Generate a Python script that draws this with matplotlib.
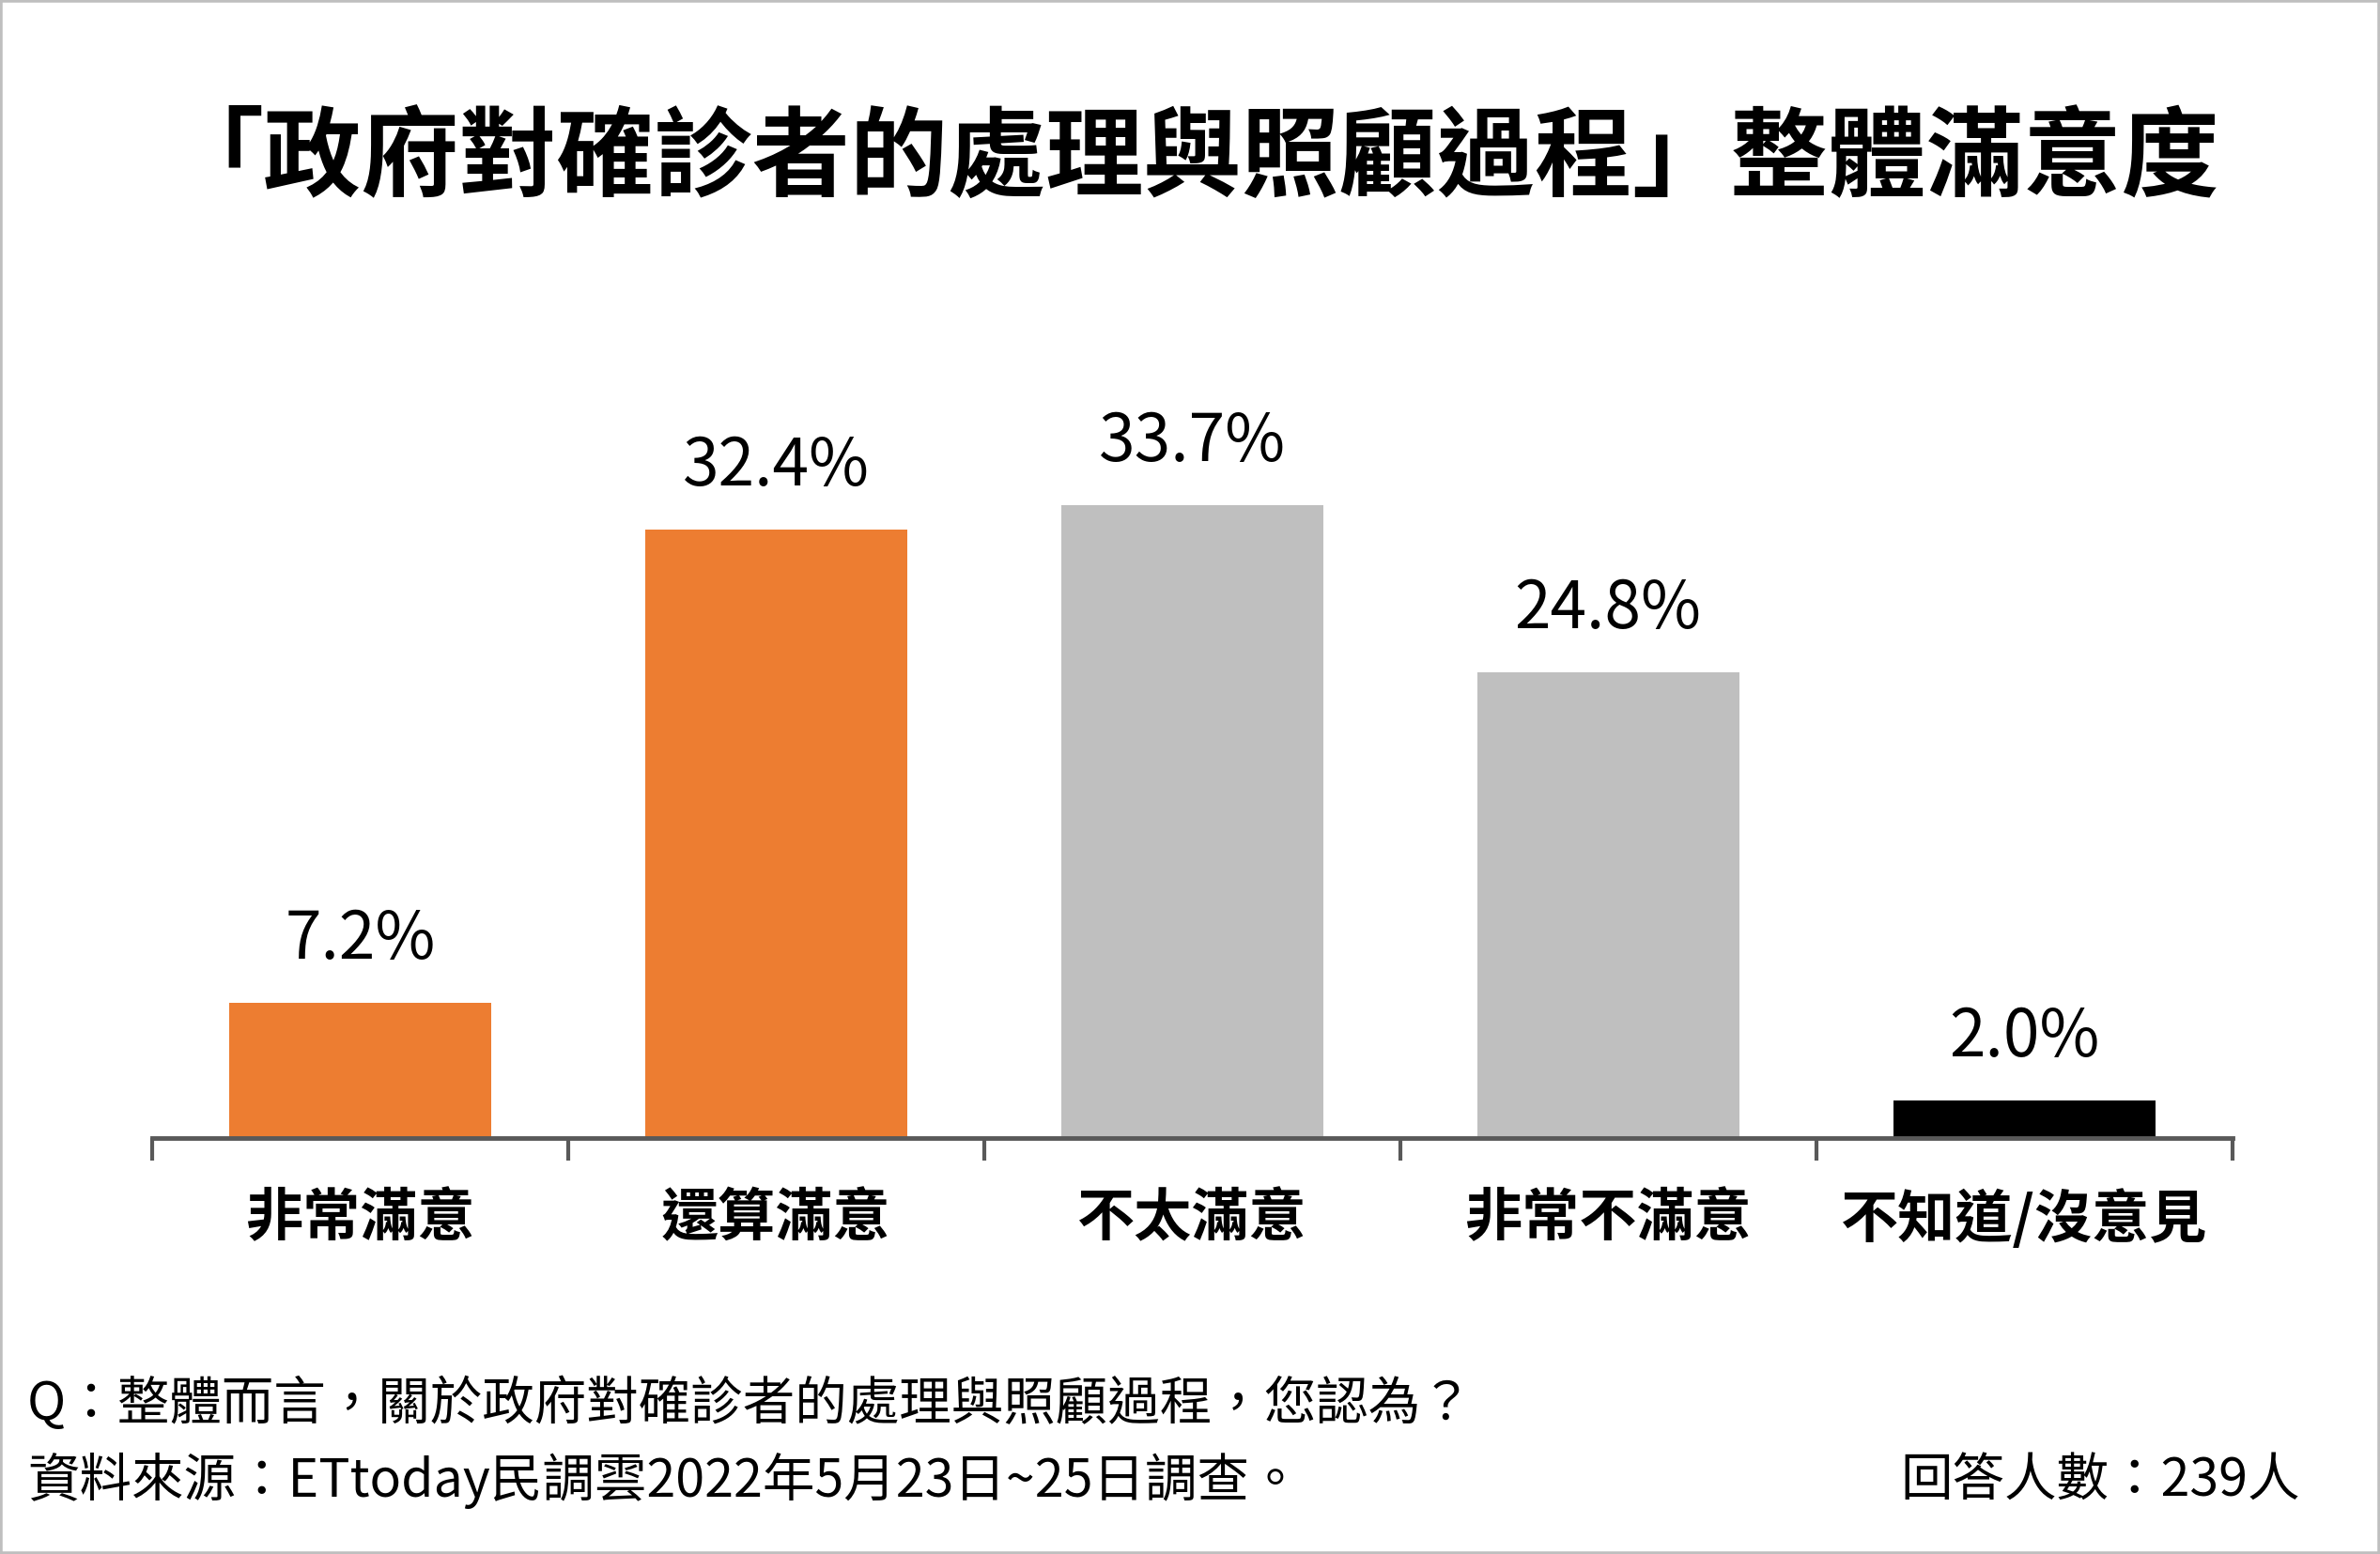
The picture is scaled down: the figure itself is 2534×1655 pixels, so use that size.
import matplotlib
matplotlib.use('Agg')
import numpy as np
import matplotlib.pyplot as plt
from matplotlib.patches import Rectangle

plt.rcParams['font.family'] = ['Noto Sans CJK TC', 'DejaVu Sans']

categories = ['非常滿意', '還算滿意', '不太滿意', '非常不滿意', '不知道/沒意見']
values = [7.2, 32.4, 33.7, 24.8, 2.0]
bar_colors = ['#ED7D31', '#ED7D31', '#BFBFBF', '#BFBFBF', '#000000']

title = '「政府對確診者的處理與照顧過程」整體滿意度'
question = 'Q：整體而言，關於政府對確診者的處理與照顧過程，您認為？'
source = '資料來源：ETtoday民調雲2022年5月23日~25日調查。'
sample = '回答人數：239人'

fig = plt.figure(figsize=(25.34, 16.55), dpi=100)
ax = fig.add_axes([0.0639, 0.2677, 0.874, 0.4834])

x = np.arange(len(categories))
ax.bar(x, values, width=0.63, color=bar_colors, zorder=2)

for xi, v in zip(x, values):
    ax.annotate('%.1f%%' % v, (xi, v), xytext=(0, 34), textcoords='offset points',
                ha='center', va='baseline', fontsize=50)

ax.set_xlim(-0.5, len(categories) - 0.5)
ax.set_ylim(0, 40)

for s in ['top', 'right', 'left']:
    ax.spines[s].set_visible(False)
ax.spines['bottom'].set_color('#595959')
ax.spines['bottom'].set_linewidth(3.5)
ax.set_yticks([])

# boundary ticks + centered labels
ax.set_xticks(np.arange(len(categories) + 1) - 0.5)
ax.set_xticklabels([])
ax.tick_params(axis='x', which='major', direction='out', length=17, width=3, color='#595959')
ax.set_xticks(x, minor=True)
ax.set_xticklabels(categories, minor=True, fontsize=44, fontweight='bold')
ax.tick_params(axis='x', which='minor', length=0, pad=40)

fig.text(0.501, 0.897, title, ha='center', va='center', fontsize=75, fontweight='bold')
fig.text(0.0115, 0.0962, question, ha='left', va='center', fontsize=40)
fig.text(0.0115, 0.047, source, ha='left', va='center', fontsize=40)
fig.text(0.9665, 0.047, sample, ha='right', va='center', fontsize=40)

fig.add_artist(Rectangle((0, 0), 1, 1, transform=fig.transFigure, fill=False,
                         edgecolor='#BFBFBF', linewidth=4))

fig.savefig('out.png', dpi=100)
